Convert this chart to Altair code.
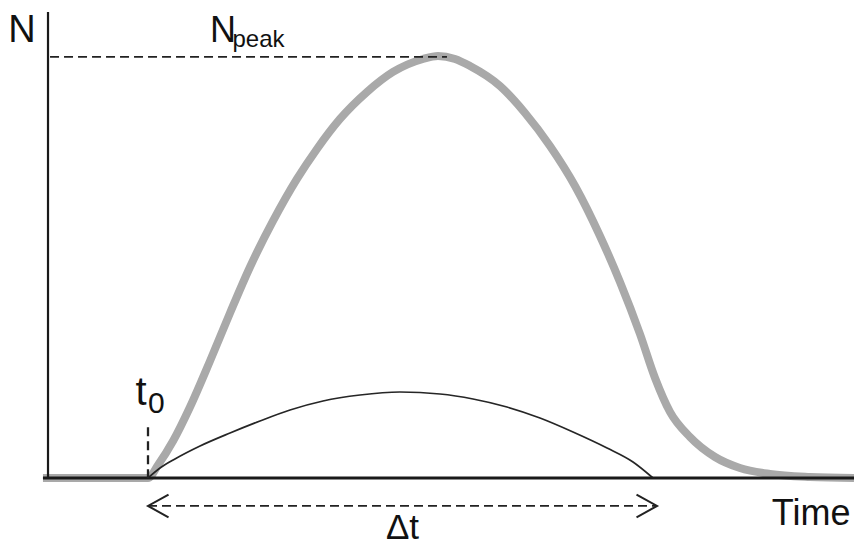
import altair as alt
import pandas as pd

# ---- data (time units: t0 = 0, N units: N_peak ~ 100) ----
gray_t = [-10.4, -5.0, 0.0, 0.99, 2.48, 4.16, 6.14, 8.12, 10.10, 12.38, 14.75, 16.73, 19.01, 21.68, 24.26,
          27.23, 28.71, 30.40, 31.88, 34.85, 37.33, 39.80, 42.28, 44.75, 46.73, 48.71, 50.20, 51.68,
          53.66, 56.14, 58.61, 61.58, 65.54, 69.90]
gray_n = [0.0, 0.0, 0.0, 3.07, 8.73, 16.76, 27.62, 38.95, 49.81, 60.67, 70.59, 77.67, 84.75, 91.12, 95.85,
          98.91, 99.62, 98.91, 97.26, 92.54, 86.17, 78.38, 68.93, 57.13, 46.27, 33.99, 23.60, 15.60,
          9.68, 4.96, 2.36, 0.94, 0.24, 0.0]

arc_t = [0.0, 1.19, 2.67, 5.15, 8.12, 11.09, 14.06, 17.33, 20.99, 24.95, 28.91, 32.18, 35.54, 38.81,
         42.08, 45.45, 48.02, 50.00]
arc_n = [0.0, 2.36, 4.49, 7.55, 10.62, 13.46, 16.05, 18.18, 19.59, 20.30, 19.83, 18.65, 16.76, 14.16,
         10.86, 7.08, 3.78, 0.0]

t_axis_start, t_axis_end = -10.4, 69.9
n_axis_top = 110.0
y_axis_t = -9.9
n_peak = 99.4
peak_t = 29.6
t0 = 0.0
t0_mark_top = 12.0
dt_end = 50.4
arrow_n = -6.6

labels_axis = ["N", "Time"]
label_peak = ["N", "peak"]
label_t0 = ["t", "0"]
label_dt = ["Δt"]

FONT = "Liberation Sans"

xs = alt.Scale(domain=[-10, 69.9], nice=False, zero=False)
ys = alt.Scale(domain=[0, 110], nice=False, zero=False)

gray_df = pd.DataFrame({"t": gray_t, "n": gray_n, "i": range(len(gray_t))})
arc_df = pd.DataFrame({"t": arc_t, "n": arc_n, "i": range(len(arc_t))})

X = lambda f: alt.X(f, type="quantitative", scale=xs, axis=None)
Y = lambda f: alt.Y(f, type="quantitative", scale=ys, axis=None)

gray = alt.Chart(gray_df).mark_line(color="#a9a9a9", strokeWidth=8, interpolate="monotone",
                                    strokeJoin="round").encode(x=X("t"), y=Y("n"), order="i:Q")
arc = alt.Chart(arc_df).mark_line(color="#262626", strokeWidth=1.7, interpolate="monotone").encode(
    x=X("t"), y=Y("n"), order="i:Q")

base_df = pd.DataFrame({"t1": [t_axis_start], "t2": [t_axis_end], "n": [0.0]})
baseline = alt.Chart(base_df).mark_rule(color="#1a1a1a", strokeWidth=2.8).encode(
    x=X("t1"), x2="t2", y=Y("n"))

yaxis_df = pd.DataFrame({"t": [y_axis_t], "n1": [0.0], "n2": [n_axis_top]})
yaxis = alt.Chart(yaxis_df).mark_rule(color="#1a1a1a", strokeWidth=2.2).encode(
    x=X("t"), y=Y("n1"), y2="n2")

peak_df = pd.DataFrame({"t1": [y_axis_t + 0.2], "t2": [peak_t], "n": [n_peak]})
peak_line = alt.Chart(peak_df).mark_rule(color="#222222", strokeWidth=1.8, strokeDash=[9, 5]).encode(
    x=X("t1"), x2="t2", y=Y("n"))

t0_df = pd.DataFrame({"t": [t0], "n1": [0.0], "n2": [t0_mark_top]})
t0_line = alt.Chart(t0_df).mark_rule(color="#222222", strokeWidth=2.3, strokeDash=[9, 5]).encode(
    x=X("t"), y=Y("n2"), y2="n1")

arrow_df = pd.DataFrame({"t1": [t0], "t2": [dt_end], "n": [arrow_n]})
arrow = alt.Chart(arrow_df).mark_rule(color="#222222", strokeWidth=1.8, strokeDash=[9, 5]).encode(
    x=X("t1"), x2="t2", y=Y("n"))
head_l = alt.Chart(pd.DataFrame({"t": [t0], "n": [arrow_n]})).mark_point(
    shape="M1.8,-1L0,0L1.8,1", size=520, filled=False, color="#222222", strokeWidth=2,
    opacity=1).encode(x=X("t"), y=Y("n"))
head_r = alt.Chart(pd.DataFrame({"t": [dt_end], "n": [arrow_n]})).mark_point(
    shape="M-1.8,-1L0,0L-1.8,1", size=520, filled=False, color="#222222", strokeWidth=2,
    opacity=1).encode(x=X("t"), y=Y("n"))

def txt(t, n, s, size, align, dx, dy):
    return alt.Chart(pd.DataFrame({"t": [t], "n": [n], "s": [s]})).mark_text(
        font=FONT, fontSize=size, align=align, baseline="alphabetic", dx=dx, dy=dy,
        color="#111111").encode(x=X("t"), y=Y("n"), text="s:N")

peak_mid = (y_axis_t + 0.2 + peak_t) / 2
texts = [
    txt(y_axis_t, n_axis_top, labels_axis[0], 38, "center", -26, 30),
    txt(t_axis_end, 0.0, labels_axis[1], 36, "right", -3.5, 47),
    txt(peak_mid, n_peak, label_peak[0], 36, "center", -25.5, -15.3),
    txt(peak_mid, n_peak, label_peak[1], 24, "left", -16, -10),
    txt(t0, t0_mark_top, label_t0[0], 40, "center", -7, -22),
    txt(t0, t0_mark_top, label_t0[1], 30, "left", 0, -14),
    txt(dt_end / 2, arrow_n, label_dt[0], 35, "center", 0, 33),
]

chart = alt.layer(gray, arc, baseline, yaxis, peak_line, t0_line, arrow, head_l, head_r, *texts).properties(
    width=807, height=466,
    autosize=alt.AutoSizeParams(type="none"),
    padding={"left": 47, "top": 12, "right": 0, "bottom": 69},
    background="white",
).configure_view(stroke=None)

chart.save("out.html", embed_options={"renderer": "svg", "actions": False})
